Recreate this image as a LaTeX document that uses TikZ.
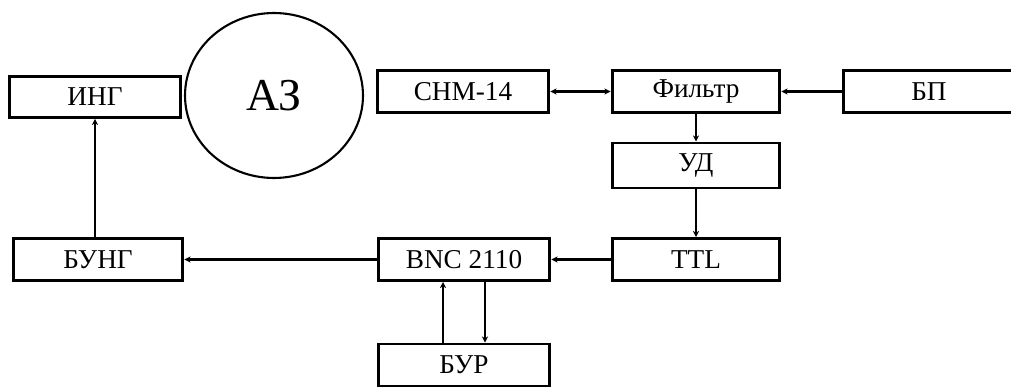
\documentclass[tikz,border=0pt]{standalone}
\usepackage{fontspec}
\setmainfont{Liberation Serif}
\usetikzlibrary{arrows.meta, shapes.geometric}

\begin{document}
\begin{tikzpicture}[x=0.02cm, y=-0.02cm,
    blok/.style={draw, line width=1.7pt, minimum width=3.4cm, minimum height=0.84cm,
      inner sep=0pt, font=\fontsize{15.5}{17}\selectfont},
    svyaz/.style={line width=1.2pt, -{Stealth[length=3.5pt, width=3.5pt]}}]
    \useasboundingbox (0,0) rectangle (1011,388);
    % Top row
    \node[blok, minimum width=3.42cm, minimum height=0.82cm] (ing) at (95,97) {ИНГ};
    \node[draw, ellipse, line width=1.2pt, minimum width=3.56cm, minimum height=3.3cm,
      font=\fontsize{26}{30}\selectfont] (az) at (274,95.5) {АЗ};
    \node[blok, minimum width=3.44cm] (snm) at (463,91.5) {СНМ-14};
    \node[blok, minimum width=3.36cm] (filtr) at (696,91.5) {Фильтр};
    \node[blok, minimum width=3.44cm] (bp) at (929,91.5) {БП};
    % Middle
    \node[blok, minimum width=3.36cm, minimum height=0.9cm] (ud) at (696,165.5) {УД};
    % Bottom row
    \node[blok, minimum width=3.36cm] (ttl) at (696,259.5) {TTL};
    \node[blok, minimum width=3.44cm] (bnc) at (464,259.5) {BNC 2110};
    \node[blok, minimum width=3.4cm] (bung) at (98,259.5) {БУНГ};
    \node[blok, minimum width=3.44cm] (bur) at (464,365) {БУР};
    % Connections
    \draw[svyaz, {Stealth[length=3.5pt, width=3.5pt]}-{Stealth[length=3.5pt, width=3.5pt]}] (snm) -- (filtr);
    \draw[svyaz] (bp) -- (filtr);
    \draw[svyaz] (filtr) -- (ud);
    \draw[svyaz] (ud) -- (ttl);
    \draw[svyaz] (ttl) -- (bnc);
    \draw[svyaz] (bnc) -- (bung);
    \draw[svyaz] (bung.north -| ing) -- (ing);
    \draw[svyaz] ([xshift=-0.42cm]bur.north) -- ([xshift=-0.42cm]bnc.south);
    \draw[svyaz] ([xshift=0.42cm]bnc.south) -- ([xshift=0.42cm]bur.north);
\end{tikzpicture}
\end{document}
